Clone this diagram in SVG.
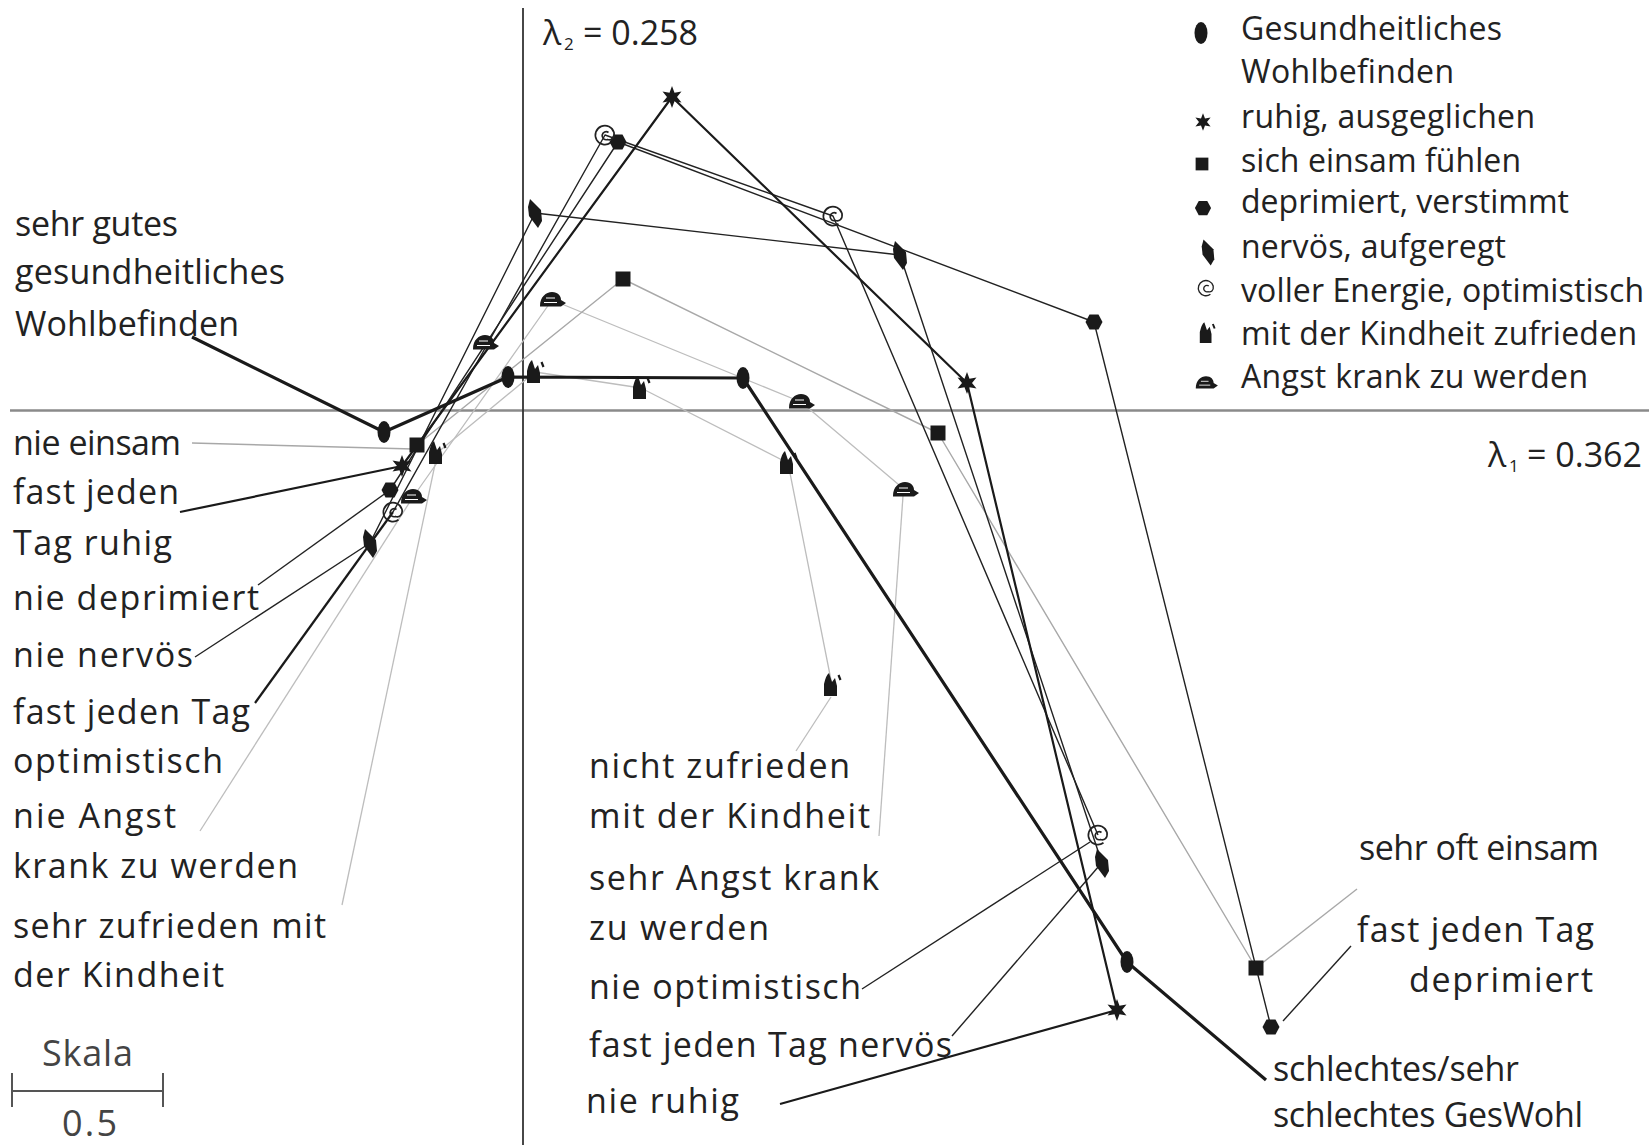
<svg xmlns="http://www.w3.org/2000/svg" xmlns:xlink="http://www.w3.org/1999/xlink" width="1649" height="1145" viewBox="0 0 1649 1145">
<style>
text{font-family:"Open Sans","Noto Sans","Liberation Sans",sans-serif;fill:#222;}
.lab{font-size:34px;}
.leg{font-size:32px;}
.sc{font-size:36px;fill:#444;}
.thick{stroke:#1a1a1a;stroke-width:3.2;fill:none;stroke-linejoin:round;}
.med{stroke:#1a1a1a;stroke-width:2.2;fill:none;stroke-linejoin:round;}
.thin{stroke:#222;stroke-width:1.4;fill:none;stroke-linejoin:round;}
.gray{stroke:#a8a8a8;stroke-width:1.4;fill:none;stroke-linejoin:round;}
.lgray{stroke:#bdbdbd;stroke-width:1.3;fill:none;stroke-linejoin:round;}
.mk{fill:#1a1a1a;}
</style>
<defs>
<ellipse id="ell" rx="6.5" ry="11" class="mk"/>
<polygon id="star" class="mk" points="0,-11 2.5,-4.3 9.5,-5.5 5,0 9.5,5.5 2.5,4.3 0,11 -2.5,4.3 -9.5,5.5 -5,0 -9.5,-5.5 -2.5,-4.3"/>
<rect id="sq" x="-7.5" y="-7.5" width="15" height="15" class="mk"/>
<polygon id="hex" class="mk" points="-8.5,0 -4.5,-7.5 4.5,-7.5 8.5,0 4.5,7.5 -4.5,7.5"/>
<path id="nerv" class="mk" d="M-5,-14 L6,-3 L7,8 L3,15 L-6,3 L-7,-6 Z"/>
<path id="spir" fill="none" stroke="#222" stroke-width="1.7" d="M5.5,7.8 A9.5,9.5 0 1 1 9,-2.5 C10,3.5 6,5.5 2.5,4.5 A4,4 0 1 1 3.5,-2.5"/>
<g id="cast"><path class="mk" d="M-8,11 L-8,-1 Q-6,-10 -3,-12 L0,-3 L3,-7 L5,1 L5,11 Z"/><path d="M6.5,-10 L8.5,-5" stroke="#1a1a1a" stroke-width="2.2" fill="none"/></g>
<g id="turt"><path class="mk" d="M-12,6 C-12,-3 -6,-8 0,-8 C6,-8 9,-4 9,0 L14,3 L9,6.5 L-12,6.5 Z"/><path d="M-6,-2 L3,-2 M-8,2.5 L5,2.5" stroke="#fff" stroke-width="1" fill="none"/></g>
</defs>
<rect width="1649" height="1145" fill="#fff"/>

<g id="axes">
<line x1="10" y1="410.5" x2="1649" y2="410.5" stroke="#8a8a8a" stroke-width="2.5"/>
<line x1="523" y1="8" x2="523" y2="1145" stroke="#333" stroke-width="1.8"/>
</g>

<g id="connectors">
<polyline class="lgray" points="413,497 552,300 801,402 905,490"/>
<line class="lgray" x1="200" y1="831" x2="413" y2="497"/>
<line class="lgray" x1="879" y1="836" x2="903" y2="496"/>
<polyline class="lgray" points="437,453 535,372 641,388 788,463 832,685"/>
<line class="lgray" x1="342" y1="905" x2="437" y2="455"/>
<line class="lgray" x1="796" y1="751" x2="831" y2="697"/>
<polyline class="gray" points="417,445 623,279 938,433 1256,968"/>
<line class="gray" x1="192" y1="443" x2="413" y2="449"/>
<line class="gray" x1="1256" y1="968" x2="1357" y2="889"/>
<polyline class="thin" points="390,490 618,142 1094,322 1271,1027"/>
<line class="thin" x1="258" y1="585" x2="390" y2="490"/>
<line class="thin" x1="1283" y1="1021" x2="1351" y2="946"/>
<polyline class="thin" points="370,543 535,213 900,255 1102,863"/>
<line class="thin" x1="195" y1="657" x2="370" y2="543"/>
<line class="thin" x1="952" y1="1036" x2="1099" y2="866"/>
<polyline class="thin" points="393,512 605,135 833,216 1098,835"/>
<line class="med" x1="255" y1="703" x2="393" y2="512" stroke-width="1.9"/>
<line class="thin" x1="862" y1="989" x2="1090" y2="842"/>
<polyline class="med" points="180,512 402,466 672,97 967,383 1117,1010 780,1104"/>
<polyline class="thick" points="192,337 384,432 508,377 743,378 1127,962 1266,1080"/>
</g>

<g id="markers">
<g id="n-gesund">
<use xlink:href="#ell" href="#ell" x="384" y="432"/>
<use xlink:href="#ell" href="#ell" x="508" y="377"/>
<use xlink:href="#ell" href="#ell" x="743" y="378"/>
<use xlink:href="#ell" href="#ell" x="1127" y="962"/>
</g>
<g id="n-ruhig">
<use xlink:href="#star" href="#star" x="402" y="466"/>
<use xlink:href="#star" href="#star" x="672" y="97"/>
<use xlink:href="#star" href="#star" x="967" y="383"/>
<use xlink:href="#star" href="#star" x="1117" y="1010"/>
</g>
<g id="n-einsam">
<use xlink:href="#sq" href="#sq" x="417" y="445"/>
<use xlink:href="#sq" href="#sq" x="623" y="279"/>
<use xlink:href="#sq" href="#sq" x="938" y="433"/>
<use xlink:href="#sq" href="#sq" x="1256" y="968"/>
</g>
<g id="n-depr">
<use xlink:href="#hex" href="#hex" x="390" y="490"/>
<use xlink:href="#hex" href="#hex" x="618" y="142"/>
<use xlink:href="#hex" href="#hex" x="1094" y="322"/>
<use xlink:href="#hex" href="#hex" x="1271" y="1027"/>
</g>
<g id="n-nervoes">
<use xlink:href="#nerv" href="#nerv" x="370" y="543"/>
<use xlink:href="#nerv" href="#nerv" x="535" y="213"/>
<use xlink:href="#nerv" href="#nerv" x="900" y="255"/>
<use xlink:href="#nerv" href="#nerv" x="1102" y="863"/>
</g>
<g id="n-optim">
<use xlink:href="#spir" href="#spir" x="393" y="512"/>
<use xlink:href="#spir" href="#spir" x="605" y="135"/>
<use xlink:href="#spir" href="#spir" x="833" y="216"/>
<use xlink:href="#spir" href="#spir" x="1098" y="835"/>
</g>
<g id="n-kindheit">
<use xlink:href="#cast" href="#cast" x="437" y="453"/>
<use xlink:href="#cast" href="#cast" x="535" y="372"/>
<use xlink:href="#cast" href="#cast" x="641" y="388"/>
<use xlink:href="#cast" href="#cast" x="788" y="463"/>
<use xlink:href="#cast" href="#cast" x="832" y="685"/>
</g>
<g id="n-angst">
<use xlink:href="#turt" href="#turt" x="413" y="497"/>
<use xlink:href="#turt" href="#turt" x="485" y="343"/>
<use xlink:href="#turt" href="#turt" x="552" y="300"/>
<use xlink:href="#turt" href="#turt" x="801" y="402"/>
<use xlink:href="#turt" href="#turt" x="905" y="490"/>
</g>
</g>

<g id="labels-left">
<text class="lab" x="15" y="236" textLength="163" lengthAdjust="spacing">sehr gutes</text>
<text class="lab" x="15" y="284" textLength="270" lengthAdjust="spacing">gesundheitliches</text>
<text class="lab" x="15" y="336" textLength="224" lengthAdjust="spacing">Wohlbefinden</text>
<text class="lab" x="13" y="455" textLength="168" lengthAdjust="spacing">nie einsam</text>
<text class="lab" x="13" y="504" textLength="166" lengthAdjust="spacing">fast jeden</text>
<text class="lab" x="13" y="555" textLength="159" lengthAdjust="spacing">Tag ruhig</text>
<text class="lab" x="13" y="610" textLength="246" lengthAdjust="spacing">nie deprimiert</text>
<text class="lab" x="13" y="667" textLength="180" lengthAdjust="spacing">nie nervös</text>
<text class="lab" x="13" y="724" textLength="237" lengthAdjust="spacing">fast jeden Tag</text>
<text class="lab" x="13" y="773" textLength="210" lengthAdjust="spacing">optimistisch</text>
<text class="lab" x="13" y="828" textLength="163" lengthAdjust="spacing">nie Angst</text>
<text class="lab" x="13" y="878" textLength="285" lengthAdjust="spacing">krank zu werden</text>
<text class="lab" x="13" y="938" textLength="313" lengthAdjust="spacing">sehr zufrieden mit</text>
<text class="lab" x="13" y="987" textLength="211" lengthAdjust="spacing">der Kindheit</text>
</g>

<g id="labels-mid">
<text class="lab" x="589" y="778" textLength="261" lengthAdjust="spacing">nicht zufrieden</text>
<text class="lab" x="589" y="828" textLength="281" lengthAdjust="spacing">mit der Kindheit</text>
<text class="lab" x="589" y="890" textLength="290" lengthAdjust="spacing">sehr Angst krank</text>
<text class="lab" x="589" y="940" textLength="180" lengthAdjust="spacing">zu werden</text>
<text class="lab" x="589" y="999" textLength="272" lengthAdjust="spacing">nie optimistisch</text>
<text class="lab" x="589" y="1057" textLength="363" lengthAdjust="spacing">fast jeden Tag nervös</text>
<text class="lab" x="586" y="1113" textLength="153" lengthAdjust="spacing">nie ruhig</text>
</g>

<g id="labels-right">
<text class="lab" x="1359" y="860" textLength="240" lengthAdjust="spacing">sehr oft einsam</text>
<text class="lab" x="1357" y="942" textLength="237" lengthAdjust="spacing">fast jeden Tag</text>
<text class="lab" x="1409" y="992" textLength="184" lengthAdjust="spacing">deprimiert</text>
<text class="lab" x="1273" y="1081" textLength="246" lengthAdjust="spacing">schlechtes/sehr</text>
<text class="lab" x="1273" y="1127" textLength="310" lengthAdjust="spacing">schlechtes GesWohl</text>
</g>

<g id="eigenvalues">
<text class="lab" x="543" y="45">λ<tspan x="564" y="50" font-size="17">2</tspan><tspan x="583" y="45">= 0.258</tspan></text>
<text class="lab" x="1488" y="467">λ<tspan x="1509" y="472" font-size="17">1</tspan><tspan x="1527" y="467">= 0.362</tspan></text>
</g>

<g id="legend">
<use xlink:href="#ell" href="#ell" x="1201" y="33"/>
<g transform="translate(1203,122) scale(0.8)"><use xlink:href="#star" href="#star"/></g>
<g transform="translate(1202,164) scale(0.85)"><use xlink:href="#sq" href="#sq"/></g>
<g transform="translate(1203,208) scale(0.95)"><use xlink:href="#hex" href="#hex"/></g>
<g transform="translate(1208,252) scale(0.9)"><use xlink:href="#nerv" href="#nerv"/></g>
<g transform="translate(1206,288) scale(0.8)"><use xlink:href="#spir" href="#spir"/></g>
<g transform="translate(1207,333) scale(0.9)"><use xlink:href="#cast" href="#cast"/></g>
<g transform="translate(1206,383) scale(0.85)"><use xlink:href="#turt" href="#turt"/></g>
<text class="leg" x="1241" y="40" textLength="261" lengthAdjust="spacing">Gesundheitliches</text>
<text class="leg" x="1241" y="83" textLength="213" lengthAdjust="spacing">Wohlbefinden</text>
<text class="leg" x="1241" y="128" textLength="294" lengthAdjust="spacing">ruhig, ausgeglichen</text>
<text class="leg" x="1241" y="172" textLength="280" lengthAdjust="spacing">sich einsam fühlen</text>
<text class="leg" x="1241" y="213" textLength="328" lengthAdjust="spacing">deprimiert, verstimmt</text>
<text class="leg" x="1241" y="258" textLength="265" lengthAdjust="spacing">nervös, aufgeregt</text>
<text class="leg" x="1241" y="302" textLength="403" lengthAdjust="spacing">voller Energie, optimistisch</text>
<text class="leg" x="1241" y="345" textLength="396" lengthAdjust="spacing">mit der Kindheit zufrieden</text>
<text class="leg" x="1241" y="388" textLength="347" lengthAdjust="spacing">Angst krank zu werden</text>
</g>

<g id="scale">
<text class="sc" x="42" y="1066" textLength="91" lengthAdjust="spacing">Skala</text>
<path d="M12,1091 H163 M12,1073 V1107 M163,1073 V1107" stroke="#555" stroke-width="2" fill="none"/>
<text class="sc" x="62" y="1136" textLength="55" lengthAdjust="spacing">0.5</text>
</g>
</svg>
